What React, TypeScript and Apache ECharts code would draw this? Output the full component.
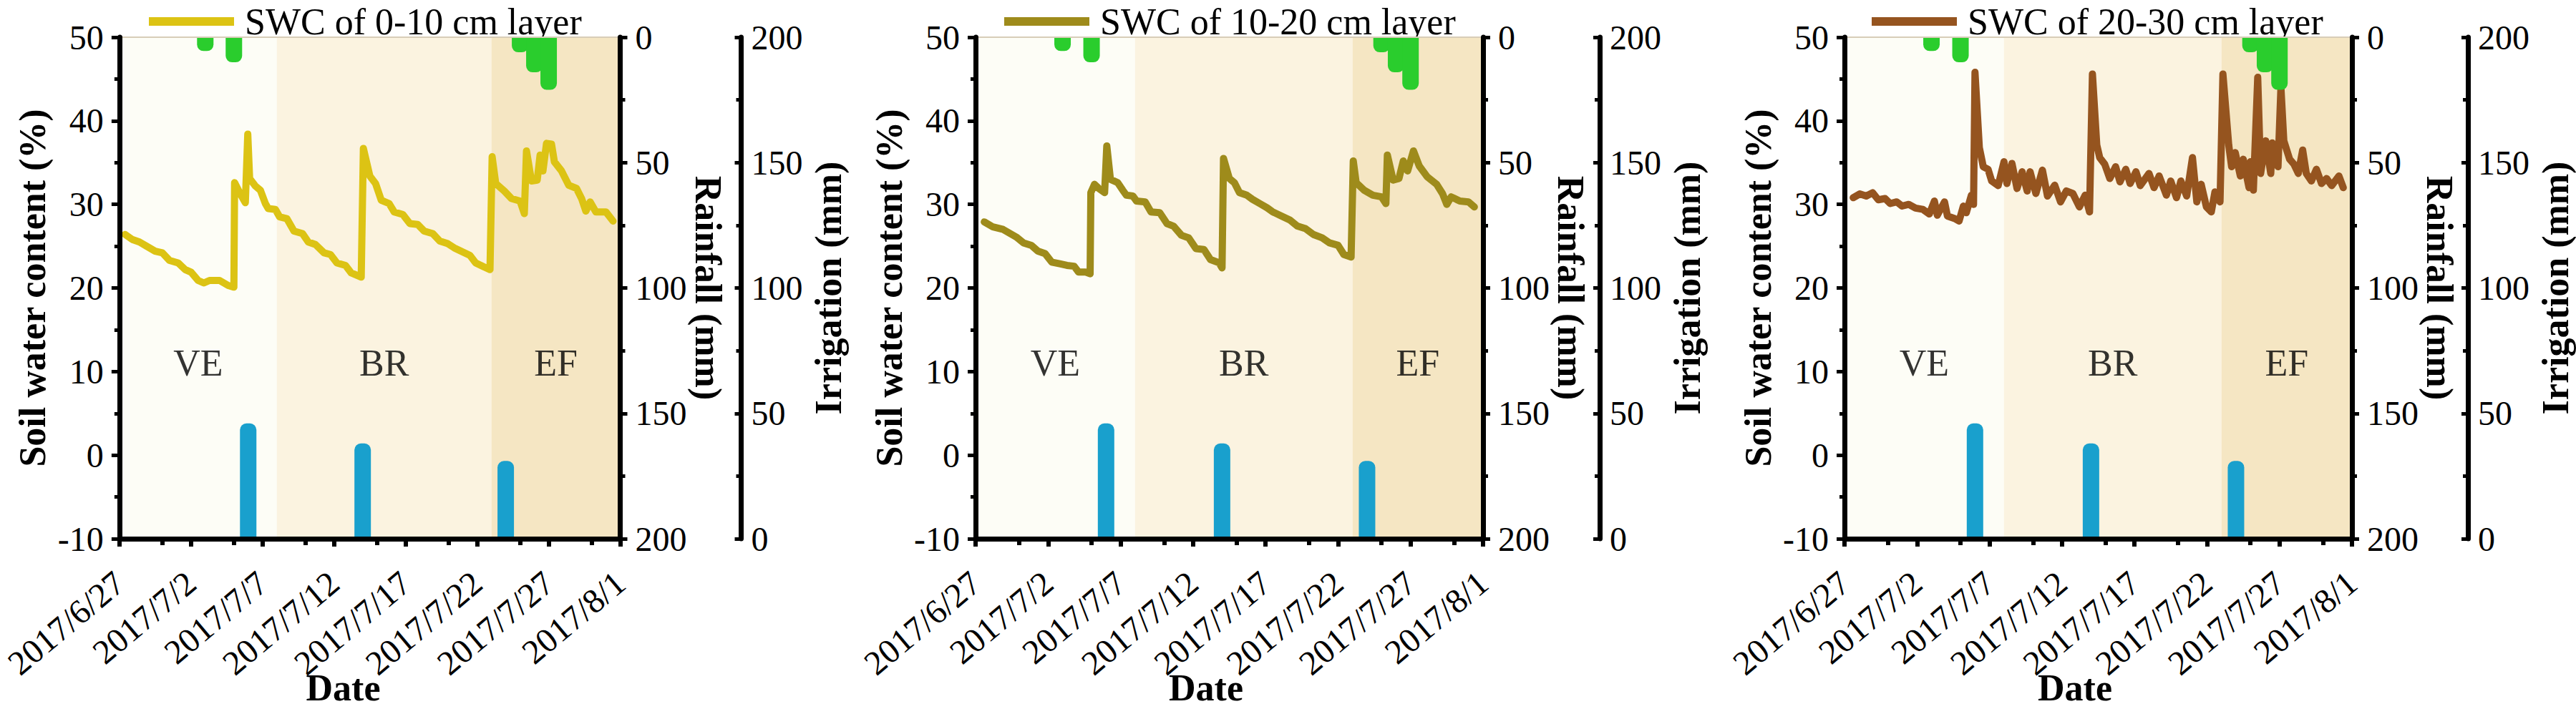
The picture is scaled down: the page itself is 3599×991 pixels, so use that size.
import React, { useEffect, useRef } from "react";
import * as echarts from "echarts";

// ---------- data ----------
const dateLabels = ["2017/6/27", "2017/7/2", "2017/7/7", "2017/7/12", "2017/7/17", "2017/7/22", "2017/7/27", "2017/8/1"];
const minorTickDays = [3, 8, 13, 18, 23, 28, 33];

const layerNames = ["SWC of 0-10 cm layer", "SWC of 10-20 cm layer", "SWC of 20-30 cm layer"];

// [days since 2017/6/27, SWC %]
const swc0to10 = [
  [0.4, 26.4], [0.9, 25.8], [1.4, 25.5], [1.9, 25.0], [2.5, 24.4], [3.0, 24.2], [3.5, 23.3], [4.1, 23.0], [4.6, 22.2], [5.0, 21.9],
  [5.5, 20.9], [5.9, 20.6], [6.3, 20.9], [7.0, 20.9], [7.6, 20.3], [8.0, 20.1], [8.05, 32.6], [8.4, 31.4], [8.8, 30.2], [8.97, 38.4],
  [9.1, 33.1], [9.5, 32.2], [9.85, 31.7], [10.2, 30.1], [10.4, 29.5], [10.9, 29.4], [11.2, 28.5], [11.7, 28.3], [12.2, 26.8], [12.8, 26.5],
  [13.2, 25.5], [13.7, 25.2], [14.3, 24.2], [14.75, 24.0], [15.2, 23.0], [15.8, 22.7], [16.2, 21.8], [16.9, 21.3], [17.05, 36.7], [17.5, 33.4],
  [17.9, 32.5], [18.3, 30.5], [18.85, 30.1], [19.2, 29.1], [19.8, 28.8], [20.3, 27.7], [20.85, 27.6], [21.3, 26.8], [21.9, 26.5], [22.4, 25.6],
  [22.95, 25.3], [23.4, 24.8], [24.0, 24.3], [24.5, 23.9], [24.9, 23.0], [25.5, 22.5], [25.9, 22.2], [26.05, 35.7], [26.3, 32.5], [26.9, 31.6],
  [27.4, 30.7], [28.0, 30.4], [28.3, 28.9], [28.45, 36.4], [28.8, 32.8], [29.2, 32.9], [29.4, 35.9], [29.6, 34.0], [29.85, 37.3], [30.2, 37.2],
  [30.4, 35.1], [30.9, 34.0], [31.4, 32.3], [31.95, 31.9], [32.3, 30.7], [32.6, 29.2], [32.9, 30.3], [33.3, 29.1], [34.0, 29.1], [34.5, 28.0],
];
const swc10to20 = [
  [0.6, 27.9], [1.2, 27.3], [1.9, 27.0], [2.2, 26.7], [2.8, 26.1], [3.3, 25.4], [3.85, 25.1], [4.3, 24.4], [4.8, 24.1], [5.25, 23.1],
  [5.8, 22.9], [6.3, 22.7], [6.8, 22.6], [7.1, 21.9], [7.6, 21.9], [7.9, 21.7], [7.95, 31.4], [8.2, 32.4], [8.5, 31.9], [8.9, 31.4],
  [9.05, 37.0], [9.3, 33.0], [9.8, 32.6], [10.15, 31.7], [10.4, 31.1], [10.85, 31.0], [11.1, 30.4], [11.7, 30.3], [12.1, 29.1], [12.7, 29.0],
  [13.2, 27.7], [13.65, 27.4], [14.2, 26.3], [14.7, 26.0], [15.2, 24.7], [15.75, 24.6], [16.2, 23.4], [16.8, 23.0], [17.0, 22.4], [17.1, 35.5],
  [17.5, 33.1], [17.85, 32.6], [18.2, 31.4], [18.7, 31.1], [19.1, 30.6], [19.6, 30.1], [20.1, 29.6], [20.5, 29.1], [21.1, 28.6], [21.7, 28.1],
  [22.2, 27.4], [22.75, 27.1], [23.3, 26.4], [23.9, 26.0], [24.4, 25.4], [25.0, 25.1], [25.4, 24.0], [25.9, 23.7], [26.05, 35.2], [26.25, 32.6],
  [26.8, 31.7], [27.4, 31.1], [28.0, 30.9], [28.3, 30.1], [28.4, 35.9], [28.8, 32.9], [29.2, 33.1], [29.5, 35.2], [29.8, 34.0], [30.2, 36.4],
  [30.6, 34.6], [31.15, 33.3], [31.8, 32.4], [32.2, 31.3], [32.5, 30.0], [32.8, 30.9], [33.4, 30.4], [34.0, 30.3], [34.4, 29.7],
];
const swc20to30 = [
  [0.6, 30.8], [1.05, 31.25], [1.5, 31.0], [1.94, 31.4], [2.33, 30.55], [2.8, 30.7], [3.15, 30.1], [3.6, 30.3], [3.97, 29.8], [4.43, 30.0],
  [4.9, 29.55], [5.4, 29.4], [5.85, 28.85], [6.2, 30.4], [6.4, 28.7], [6.9, 30.3], [7.1, 28.6], [7.6, 28.3], [7.9, 28.0], [8.2, 29.8],
  [8.4, 29.0], [8.75, 31.1], [8.9, 30.0], [9.0, 45.8], [9.3, 36.8], [9.57, 34.5], [9.9, 34.2], [10.15, 32.8], [10.6, 32.25], [11.0, 35.1],
  [11.2, 32.5], [11.55, 34.9], [11.9, 31.9], [12.25, 33.9], [12.6, 31.6], [12.8, 33.9], [13.2, 31.3], [13.65, 34.1], [14.0, 31.0], [14.5, 32.3],
  [14.9, 30.3], [15.3, 31.6], [15.75, 31.3], [16.2, 29.7], [16.6, 31.1], [16.9, 29.1], [17.1, 45.6], [17.4, 37.1], [17.6, 35.6], [17.95, 34.8],
  [18.3, 33.1], [18.7, 34.5], [19.0, 32.7], [19.4, 34.2], [19.7, 32.5], [20.1, 33.9], [20.4, 32.25], [21.0, 33.7], [21.35, 32.0], [21.7, 33.4],
  [22.2, 31.1], [22.5, 32.8], [22.9, 30.8], [23.2, 32.8], [23.6, 31.0], [24.0, 35.6], [24.3, 30.3], [24.6, 32.4], [24.96, 29.7], [25.3, 29.1],
  [25.55, 31.5], [25.9, 30.3], [26.1, 45.6], [26.5, 37.1], [26.7, 34.5], [26.95, 36.2], [27.3, 33.4], [27.5, 35.4], [27.9, 32.0], [28.0, 35.1],
  [28.2, 31.7], [28.5, 45.2], [28.7, 33.7], [29.05, 37.6], [29.4, 33.7], [29.5, 37.35], [29.9, 34.5], [30.1, 44.0], [30.3, 37.6], [30.7, 35.4],
  [31.0, 34.8], [31.3, 33.7], [31.6, 36.5], [31.85, 33.7], [32.2, 32.8], [32.55, 34.2], [32.9, 32.5], [33.25, 33.1], [33.6, 32.25], [34.1, 33.4],
  [34.4, 32.0],
];
const swcSeries = [swc0to10, swc10to20, swc20to30];

const rainDays = [6, 8, 28, 29, 30];
const rainfall = [5.5, 10, 6, 14, 21];
const irrigationDays = [9, 17, 27];
const irrigation = [46, 38, 31];

const phaseNames = ["VE", "BR", "EF"];
const phaseStart = [0, 11, 26];
const phaseEnd = [11, 26, 35];
const phaseLabelValue = 11;

// ---------- styles / layout ----------
const FONT = "'Liberation Serif', 'Times New Roman', serif";
const lineColors = ["#dcc314", "#9e8b1b", "#95541f"];
const phaseColors = ["#fdfdf6", "#fbf3e0", "#f5e6c3"];
const rainColor = "#2acd2d";
const irrigationColor = "#19a0cd";
const panelLeft = [157.5, 1363, 2577];
const plotWidth = 709;
const plotTop = 52;
const plotHeight = 701;
const irrigationOffset = [169, 163, 162];
const legendLeft = [208, 1403, 2615];

function buildOption() {
  const grid: any[] = [];
  const xAxis: any[] = [];
  const yAxis: any[] = [];
  const series: any[] = [];
  const legend: any[] = [];
  const graphic: any[] = [];

  const tickLabel = { fontSize: 48, fontFamily: FONT, color: "#000" };
  const nameStyle = { fontSize: 52, fontWeight: "bold", fontFamily: FONT, color: "#000" };
  const blackLine = { color: "#000", width: 7 };

  for (let i = 0; i < 3; i++) {
    grid.push({ left: panelLeft[i], top: plotTop, width: plotWidth, height: plotHeight });
    const xb = i * 3;
    const yb = i * 3;

    xAxis.push({
      gridIndex: i, type: "value", min: 0, max: 35, interval: 5, position: "bottom", z: 10,
      axisLine: { show: true, onZero: false, lineStyle: blackLine },
      axisTick: { show: true, length: 11, lineStyle: { color: "#000", width: 6 } },
      splitLine: { show: false },
      axisLabel: {
        ...tickLabel, rotate: 40, margin: 55, showMinLabel: true, showMaxLabel: true,
        formatter: (v: number) => dateLabels[Math.round(v / 5)] ?? "",
      },
    });
    xAxis.push({
      gridIndex: i, type: "value", min: 0, max: 35, position: "bottom", z: 10,
      axisLine: { show: false, onZero: false },
      axisTick: { show: true, customValues: minorTickDays, length: 9, lineStyle: { color: "#000", width: 6 } },
      axisLabel: { show: false }, splitLine: { show: false },
    });
    xAxis.push({
      gridIndex: i, type: "value", min: 0, max: 35, position: "top", z: 9,
      axisLine: { show: true, onZero: false, lineStyle: { color: "#d8cdb8", width: 2 } },
      axisTick: { show: false }, axisLabel: { show: false }, splitLine: { show: false },
    });

    yAxis.push({
      gridIndex: i, type: "value", min: -10, max: 50, interval: 10, position: "left", z: 10,
      axisLine: { show: true, onZero: false, lineStyle: blackLine },
      axisTick: { show: true, length: 11, lineStyle: { color: "#000", width: 5 } },
      minorTick: { show: true, splitNumber: 2, length: 7, lineStyle: { color: "#000", width: 5 } },
      splitLine: { show: false }, minorSplitLine: { show: false },
      axisLabel: { ...tickLabel, margin: 22, showMinLabel: true, showMaxLabel: true },
      name: "Soil water content (%)", nameLocation: "middle", nameRotate: 90, nameGap: 95, nameTextStyle: nameStyle,
    });
    yAxis.push({
      gridIndex: i, type: "value", min: 0, max: 200, interval: 50, inverse: true, position: "right", z: 10,
      axisLine: { show: true, onZero: false, lineStyle: blackLine },
      axisTick: { show: true, length: 10, lineStyle: { color: "#000", width: 5 } },
      minorTick: { show: true, splitNumber: 2, length: 7, lineStyle: { color: "#000", width: 5 } },
      splitLine: { show: false }, minorSplitLine: { show: false },
      axisLabel: { ...tickLabel, margin: 21, showMinLabel: true, showMaxLabel: true },
      name: "Rainfall (mm)", nameLocation: "middle", nameRotate: -90, nameGap: 92, nameTextStyle: nameStyle,
    });
    yAxis.push({
      gridIndex: i, type: "value", min: 0, max: 200, interval: 50, position: "right", offset: irrigationOffset[i], z: 10,
      axisLine: { show: true, onZero: false, lineStyle: blackLine },
      axisTick: { show: true, inside: true, length: 9, lineStyle: { color: "#000", width: 5 } },
      minorTick: { show: true, splitNumber: 2, length: 7, lineStyle: { color: "#000", width: 5 } },
      splitLine: { show: false }, minorSplitLine: { show: false },
      axisLabel: { ...tickLabel, margin: 14, showMinLabel: true, showMaxLabel: true },
      name: "Irrigation (mm)", nameLocation: "middle", nameRotate: 90, nameGap: 96, nameTextStyle: nameStyle,
    });

    // growth-stage bands and labels
    series.push({
      type: "scatter", name: "phase" + i, xAxisIndex: xb, yAxisIndex: yb, silent: true, z: 2,
      symbolSize: 1, itemStyle: { color: "rgba(0,0,0,0)" },
      data: phaseNames.map((n, k) => ({ name: n, value: [(phaseStart[k] + phaseEnd[k]) / 2, phaseLabelValue] })),
      label: { show: true, position: "inside", formatter: "{b}", fontSize: 52, fontFamily: FONT, color: "#000" },
      markArea: {
        silent: true,
        data: phaseNames.map((n, k) => [
          { xAxis: phaseStart[k], itemStyle: { color: phaseColors[k] } },
          { xAxis: phaseEnd[k] },
        ]),
      },
    });

    series.push({
      type: "line", name: layerNames[i], xAxisIndex: xb, yAxisIndex: yb, z: 3,
      data: swcSeries[i], showSymbol: false, symbol: "none",
      lineStyle: { color: lineColors[i], width: 10, cap: "round", join: "round" },
      itemStyle: { color: lineColors[i] },
    });

    series.push({
      type: "bar", name: "Rainfall " + i, xAxisIndex: xb, yAxisIndex: yb + 1, z: 4,
      data: rainDays.map((d, k) => [d, rainfall[k]]), barWidth: 23, barGap: "-100%",
      itemStyle: { color: rainColor, borderRadius: [0, 0, 9, 9] },
    });

    series.push({
      type: "bar", name: "Irrigation " + i, xAxisIndex: xb + 1, yAxisIndex: yb + 2, z: 4,
      data: irrigationDays.map((d, k) => [d, irrigation[k]]), barWidth: 23, barGap: "-100%",
      itemStyle: { color: irrigationColor, borderRadius: [9, 9, 0, 0] },
    });

    legend.push({
      data: [{ name: layerNames[i], icon: "rect" }],
      left: legendLeft[i], top: 4, padding: 0, itemGap: 0,
      itemWidth: 119, itemHeight: 12, selectedMode: false,
      textStyle: { fontSize: 52, fontFamily: FONT, color: "#000", lineHeight: 52, padding: [0, 0, 0, 10] },
    });

    graphic.push({
      type: "text", x: panelLeft[i] + 322, y: 961, z: 20,
      style: { text: "Date", fontSize: 52, fontWeight: "bold", fontFamily: FONT, fill: "#000", align: "center", verticalAlign: "middle" },
    });
  }

  return { animation: false, backgroundColor: "#ffffff", grid, xAxis, yAxis, series, legend, graphic };
}

export default function App() {
  const ref = useRef<HTMLDivElement>(null);
  useEffect(() => {
    if (!ref.current) return;
    const chart = echarts.init(ref.current, null, { renderer: "svg" });
    chart.setOption(buildOption() as any);
    return () => chart.dispose();
  }, []);
  return (
    <div
      ref={ref}
      style={{ position: "absolute", left: 0, top: 0, width: 3599, height: 991, background: "#fff" }}
    />
  );
}
